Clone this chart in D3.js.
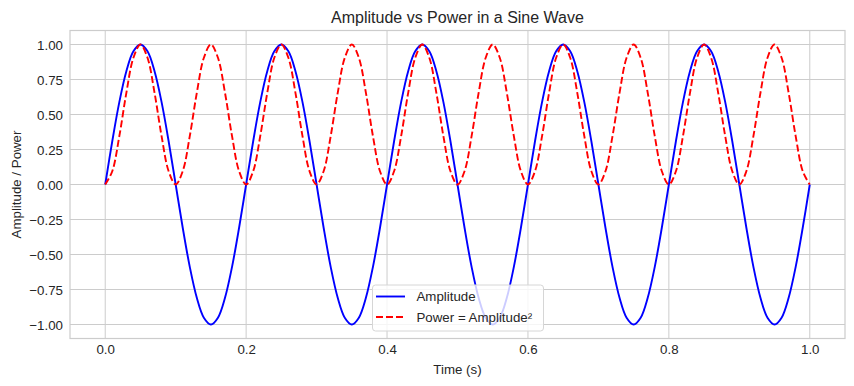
<!DOCTYPE html>
<html>
<head>
<meta charset="utf-8">
<script src="https://cdn.jsdelivr.net/npm/d3@7/dist/d3.min.js"></script>
<style>
  html, body { margin: 0; padding: 0; background: #fff; }
  svg { display: block; }
  text { font-family: "Liberation Sans", Arial, sans-serif; fill: #262626; }
</style>
</head>
<body>
<svg id="chart" width="854" height="386"></svg>
<script>
const time = [0.00,0.01,0.02,0.03,0.04,0.05,0.06,0.07,0.08,0.09,
  0.10,0.11,0.12,0.13,0.14,0.15,0.16,0.17,0.18,0.19,
  0.20,0.21,0.22,0.23,0.24,0.25,0.26,0.27,0.28,0.29,
  0.30,0.31,0.32,0.33,0.34,0.35,0.36,0.37,0.38,0.39,
  0.40,0.41,0.42,0.43,0.44,0.45,0.46,0.47,0.48,0.49,
  0.50,0.51,0.52,0.53,0.54,0.55,0.56,0.57,0.58,0.59,
  0.60,0.61,0.62,0.63,0.64,0.65,0.66,0.67,0.68,0.69,
  0.70,0.71,0.72,0.73,0.74,0.75,0.76,0.77,0.78,0.79,
  0.80,0.81,0.82,0.83,0.84,0.85,0.86,0.87,0.88,0.89,
  0.90,0.91,0.92,0.93,0.94,0.95,0.96,0.97,0.98,0.99,1.00];

const amplitude = [
  0,0.309,0.588,0.809,0.951,1,0.951,0.809,0.588,0.309,0,-0.309,-0.588,-0.809,-0.951,-1,-0.951,-0.809,-0.588,-0.309,
  0,0.309,0.588,0.809,0.951,1,0.951,0.809,0.588,0.309,0,-0.309,-0.588,-0.809,-0.951,-1,-0.951,-0.809,-0.588,-0.309,
  0,0.309,0.588,0.809,0.951,1,0.951,0.809,0.588,0.309,0,-0.309,-0.588,-0.809,-0.951,-1,-0.951,-0.809,-0.588,-0.309,
  0,0.309,0.588,0.809,0.951,1,0.951,0.809,0.588,0.309,0,-0.309,-0.588,-0.809,-0.951,-1,-0.951,-0.809,-0.588,-0.309,
  0,0.309,0.588,0.809,0.951,1,0.951,0.809,0.588,0.309,0,-0.309,-0.588,-0.809,-0.951,-1,-0.951,-0.809,-0.588,-0.309,
  0];

const power = [
  0,0.095,0.345,0.655,0.905,1,0.905,0.655,0.345,0.095,0,0.095,0.345,0.655,0.905,1,0.905,0.655,0.345,0.095,
  0,0.095,0.345,0.655,0.905,1,0.905,0.655,0.345,0.095,0,0.095,0.345,0.655,0.905,1,0.905,0.655,0.345,0.095,
  0,0.095,0.345,0.655,0.905,1,0.905,0.655,0.345,0.095,0,0.095,0.345,0.655,0.905,1,0.905,0.655,0.345,0.095,
  0,0.095,0.345,0.655,0.905,1,0.905,0.655,0.345,0.095,0,0.095,0.345,0.655,0.905,1,0.905,0.655,0.345,0.095,
  0,0.095,0.345,0.655,0.905,1,0.905,0.655,0.345,0.095,0,0.095,0.345,0.655,0.905,1,0.905,0.655,0.345,0.095,
  0];

const xTicks = [0.0, 0.2, 0.4, 0.6, 0.8, 1.0];
const yTicks = [-1.00, -0.75, -0.50, -0.25, 0.00, 0.25, 0.50, 0.75, 1.00];
const seriesNames = ["Amplitude", "Power = Amplitude²"];

const svg = d3.select("#chart");
const L = 70, R = 845, T = 30.5, B = 338.5;

const x = d3.scaleLinear().domain([-0.05, 1.05]).range([L, R]);
const y = d3.scaleLinear().domain([-1.1, 1.1]).range([B, T]);

const grid = "#cccccc";
const fs = "13.3px";
const fmtY = v => d3.format(".2f")(v).replace("-", "\u2212");
const fmtX = v => d3.format(".1f")(v);

// grid
const g = svg.append("g");
g.selectAll(".gx").data(xTicks).enter().append("line")
  .attr("x1", d => x(d)).attr("x2", d => x(d)).attr("y1", T).attr("y2", B)
  .attr("stroke", grid).attr("stroke-width", 1);
g.selectAll(".gy").data(yTicks).enter().append("line")
  .attr("y1", d => y(d)).attr("y2", d => y(d)).attr("x1", L).attr("x2", R)
  .attr("stroke", grid).attr("stroke-width", 1);

// frame
svg.append("rect").attr("x", L).attr("y", T).attr("width", R - L).attr("height", B - T)
  .attr("fill", "none").attr("stroke", grid).attr("stroke-width", 1.2);

// axes via d3 axis (labels only)
const xAxis = d3.axisBottom(x).tickValues(xTicks).tickFormat(fmtX).tickSize(0).tickPadding(0);
const ax = svg.append("g").attr("transform", `translate(0,${B})`).call(xAxis);
ax.select(".domain").remove();
ax.selectAll("text").attr("dy", null).attr("y", 15.5).style("font-size", fs)
  .style("font-family", '"Liberation Sans", Arial, sans-serif').attr("fill", "#262626");

const yAxis = d3.axisLeft(y).tickValues(yTicks).tickFormat(fmtY).tickSize(0).tickPadding(0);
const ay = svg.append("g").attr("transform", `translate(${L},0)`).call(yAxis);
ay.select(".domain").remove();
ay.selectAll("text").attr("x", -7).attr("dy", "0.35em").style("font-size", fs)
  .style("font-family", '"Liberation Sans", Arial, sans-serif').attr("fill", "#262626");

// lines
const pts = (vals) => time.map((t, i) => [t, vals[i]]);
const line = d3.line().x(d => x(d[0])).y(d => y(d[1])).curve(d3.curveCatmullRom.alpha(0.5));

svg.append("path").attr("d", line(pts(amplitude)))
  .attr("fill", "none").attr("stroke", "#0000ff").attr("stroke-width", 1.9);
svg.append("path").attr("d", line(pts(power)))
  .attr("fill", "none").attr("stroke", "#ff0000").attr("stroke-width", 1.9)
  .attr("stroke-dasharray", "7,3");

// title & labels
svg.append("text").attr("x", (L + R) / 2).attr("y", 23).attr("text-anchor", "middle")
  .style("font-size", "16px").text("Amplitude vs Power in a Sine Wave");
svg.append("text").attr("x", (L + R) / 2).attr("y", 374).attr("text-anchor", "middle")
  .style("font-size", fs).text("Time (s)");
svg.append("text").attr("transform", `translate(21,${(T + B) / 2}) rotate(-90)`)
  .attr("text-anchor", "middle").style("font-size", fs).text("Amplitude / Power");

// legend
const lg = svg.append("g");
lg.append("rect").attr("x", 372.5).attr("y", 285).attr("width", 171).attr("height", 46)
  .attr("rx", 3).attr("fill", "#ffffff").attr("fill-opacity", 0.8)
  .attr("stroke", "#d6d6d6").attr("stroke-width", 1);
const colors = ["#0000ff", "#ff0000"];
const dashes = [null, "7,3"];
seriesNames.forEach((name, i) => {
  const yy = 296.5 + i * 20.5;
  lg.append("line").attr("x1", 376).attr("x2", 405).attr("y1", yy).attr("y2", yy)
    .attr("stroke", colors[i]).attr("stroke-width", 1.9).attr("stroke-dasharray", dashes[i]);
  lg.append("text").attr("x", 416.5).attr("y", yy).attr("dy", "0.35em")
    .style("font-size", fs).text(name);
});
</script>
</body>
</html>
